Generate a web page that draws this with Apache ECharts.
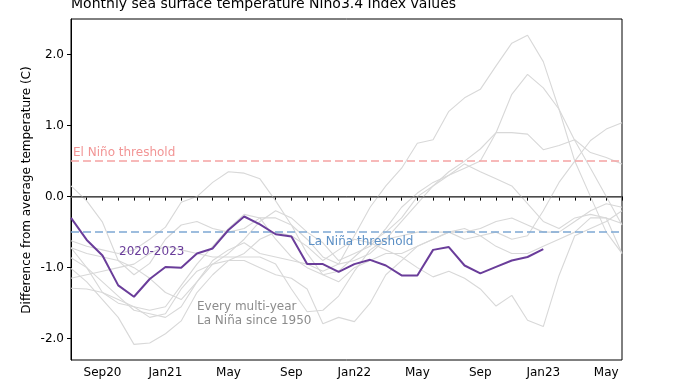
<!DOCTYPE html>
<html>
<head>
<meta charset="utf-8">
<script src="https://cdn.jsdelivr.net/npm/echarts@6/dist/echarts.min.js"></script>
<style>html,body{margin:0;padding:0;background:#fff}#c{width:681px;height:383px}</style>
</head>
<body>
<div id="c"></div>
<script>
// Months from Jul (year 0) to Jun (year 3), aligned to 2020-2023
const categories = [
  '2020-07','2020-08','2020-09','2020-10','2020-11','2020-12',
  '2021-01','2021-02','2021-03','2021-04','2021-05','2021-06',
  '2021-07','2021-08','2021-09','2021-10','2021-11','2021-12',
  '2022-01','2022-02','2022-03','2022-04','2022-05','2022-06',
  '2022-07','2022-08','2022-09','2022-10','2022-11','2022-12',
  '2023-01','2023-02','2023-03','2023-04','2023-05','2023-06'
];
const tickLabels = [
  '','','Sep20','','','',
  'Jan21','','','','May','',
  '','','Sep','','','',
  'Jan22','','','','May','',
  '','','Sep','','','',
  'Jan23','','','','May',''
];
const yTicks = [-2, -1, 0, 1, 2];

// 2020-2023 La Niña (monthly Niño3.4 anomaly)
const current = [-0.3,-0.61,-0.83,-1.25,-1.41,-1.16,-0.99,-1.0,-0.8,-0.73,-0.47,-0.28,
  -0.39,-0.53,-0.56,-0.95,-0.95,-1.06,-0.95,-0.89,-0.97,-1.11,-1.11,-0.75,
  -0.71,-0.97,-1.08,-0.99,-0.9,-0.85,-0.74];

// Earlier multi-year La Niña events (grey)
const ln1954 = [-1.15,-1.1,-1.05,-1.0,-0.95,-0.8,-0.7,-0.75,-0.8,-0.85,-0.85,-0.85,
  -0.85,-0.95,-1.3,-1.62,-1.6,-1.4,-1.05,-0.75,-0.6,-0.55,-0.5,-0.5,
  -0.5,-0.6,-0.55,-0.5,-0.6,-0.55,-0.2,0.2,0.5,0.79,0.95,1.04];
const ln1970 = [-0.72,-0.8,-0.85,-0.9,-1.0,-1.15,-1.35,-1.45,-1.2,-0.9,-0.75,-0.65,
  -0.8,-0.85,-0.9,-0.95,-1.05,-0.95,-0.55,-0.15,0.15,0.4,0.75,0.8,
  1.2,1.39,1.51,1.84,2.16,2.27,1.9,1.23,0.5,0.0,-0.5,-0.8];
const ln1973 = [-1.01,-1.2,-1.45,-1.7,-2.08,-2.06,-1.93,-1.75,-1.35,-1.1,-0.9,-0.8,
  -0.6,-0.5,-0.55,-0.7,-0.9,-0.75,-0.6,-0.65,-0.75,-0.85,-1.0,-1.13,
  -1.05,-1.15,-1.3,-1.54,-1.39,-1.74,-1.83,-1.11,-0.55,-0.45,-0.35,-0.2];
const ln1983 = [0.15,-0.06,-0.36,-0.9,-1.1,-0.94,-0.6,-0.4,-0.35,-0.45,-0.5,-0.45,
  -0.3,-0.3,-0.4,-0.8,-1.1,-1.2,-1.0,-0.9,-0.8,-0.8,-0.7,-0.6,
  -0.5,-0.5,-0.45,-0.35,-0.3,-0.4,-0.5,-0.5,-0.35,-0.2,-0.1,-0.15];
const ln1998 = [-1.29,-1.3,-1.35,-1.45,-1.55,-1.7,-1.65,-1.3,-1.05,-0.95,-0.9,-0.9,
  -1.0,-1.1,-1.15,-1.3,-1.79,-1.7,-1.76,-1.5,-1.1,-0.9,-0.7,-0.6,
  -0.5,-0.45,-0.55,-0.7,-0.8,-0.8,-0.7,-0.6,-0.5,-0.3,-0.3,-0.8];
const ln2007 = [-0.86,-1.0,-1.2,-1.4,-1.6,-1.65,-1.7,-1.55,-1.2,-0.95,-0.8,-0.6,
  -0.35,-0.2,-0.3,-0.5,-0.65,-0.9,-0.8,-0.7,-0.45,-0.15,0.05,0.2,
  0.3,0.4,0.5,0.9,1.44,1.72,1.53,1.23,0.79,0.4,0.0,-0.4];
const ln2010 = [-0.72,-1.0,-1.35,-1.5,-1.55,-1.6,-1.55,-1.25,-0.95,-0.7,-0.45,-0.25,
  -0.3,-0.6,-0.85,-1.0,-1.1,-1.05,-0.85,-0.65,-0.5,-0.3,0.0,0.15,
  0.3,0.46,0.35,0.25,0.15,-0.1,-0.35,-0.45,-0.3,-0.25,-0.3,-0.38];
const ln2016 = [-0.62,-0.7,-0.75,-0.8,-0.75,-0.6,-0.43,-0.08,0.0,0.2,0.35,0.33,
  0.25,-0.06,-0.4,-0.6,-0.85,-0.95,-0.9,-0.8,-0.6,-0.35,-0.1,0.15,
  0.35,0.5,0.67,0.9,0.9,0.88,0.66,0.72,0.8,0.62,0.55,0.46];
const greyEvents = [ln1954, ln1970, ln1973, ln1983, ln1998, ln2007, ln2010, ln2016];

const elNinoThreshold = 0.5;
const laNinaThreshold = -0.5;

const FONT = 'DejaVu Sans';
const chart = echarts.init(document.getElementById('c'), null, {renderer: 'canvas'});

const series = greyEvents.map(d => ({
  type: 'line', data: d, symbol: 'none', silent: true, z: 1,
  lineStyle: {color: '#d8d8d8', width: 1.1}
}));
series.push({
  type: 'line', data: [], symbol: 'none', silent: true, z: 3,
  markLine: {
    silent: true, symbol: 'none', label: {show: false},
    data: [
      {yAxis: 0, lineStyle: {color: '#666666', width: 1.5, type: 'solid'}},
      {yAxis: elNinoThreshold, lineStyle: {color: '#f5a3a3', width: 1.5, type: [8, 4]}},
      {yAxis: laNinaThreshold, lineStyle: {color: '#7ea8d3', width: 1.5, type: [8, 4]}}
    ]
  }
});
series.push({
  type: 'line', data: current, symbol: 'none', silent: true, z: 5,
  lineStyle: {color: '#6a3d9a', width: 2}
});

chart.setOption({
  animation: false,
  backgroundColor: '#ffffff',
  title: {
    text: 'Monthly sea surface temperature Niño3.4 Index values',
    left: 71, top: -3, padding: 0,
    textStyle: {fontFamily: FONT, fontSize: 14, fontWeight: 'normal', color: '#000'}
  },
  grid: {left: 71, right: 59, top: 19, bottom: 23, show: true, borderColor: '#000', borderWidth: 1, backgroundColor: 'transparent'},
  xAxis: {
    type: 'category', data: categories, boundaryGap: false,
    axisLine: {lineStyle: {color: '#000', width: 1}},
    axisTick: {show: true, interval: 0, length: 4, lineStyle: {color: '#000'}},
    axisLabel: {interval: 0, margin: 7, fontFamily: FONT, fontSize: 12, color: '#000',
      formatter: (v, i) => tickLabels[i]},
    splitLine: {show: false}
  },
  yAxis: {
    type: 'value', min: -2.3, max: 2.5,
    axisLine: {show: true, lineStyle: {color: '#000', width: 1}},
    axisTick: {show: true, length: 4, customValues: yTicks, lineStyle: {color: '#000'}},
    axisLabel: {customValues: yTicks, margin: 7, fontFamily: FONT, fontSize: 12, color: '#000',
      formatter: v => v.toFixed(1)},
    splitLine: {show: false}
  },
  graphic: [
    {type: 'text', x: 27, y: 190, rotation: Math.PI / 2,
      style: {text: 'Difference from average temperature (C)', font: '12px "DejaVu Sans"', fill: '#000', align: 'center', verticalAlign: 'middle'}},
    {type: 'text', x: 73, y: 153, z: 10,
      style: {text: 'El Niño threshold', font: '12px "DejaVu Sans"', fill: '#f29595', align: 'left', verticalAlign: 'middle'}},
    {type: 'text', x: 308, y: 242, z: 10,
      style: {text: 'La Niña threshold', font: '12px "DejaVu Sans"', fill: '#5b8fc5', align: 'left', verticalAlign: 'middle'}},
    {type: 'text', x: 119, y: 252, z: 10,
      style: {text: '2020-2023', font: '12px "DejaVu Sans"', fill: '#6a3d9a', align: 'left', verticalAlign: 'middle'}},
    {type: 'text', x: 197, y: 307, z: 10,
      style: {text: 'Every multi-year', font: '12px "DejaVu Sans"', fill: '#8c8c8c', align: 'left', verticalAlign: 'middle'}},
    {type: 'text', x: 197, y: 321, z: 10,
      style: {text: 'La Niña since 1950', font: '12px "DejaVu Sans"', fill: '#8c8c8c', align: 'left', verticalAlign: 'middle'}}
  ],
  series: series
});
</script>
</body>
</html>
